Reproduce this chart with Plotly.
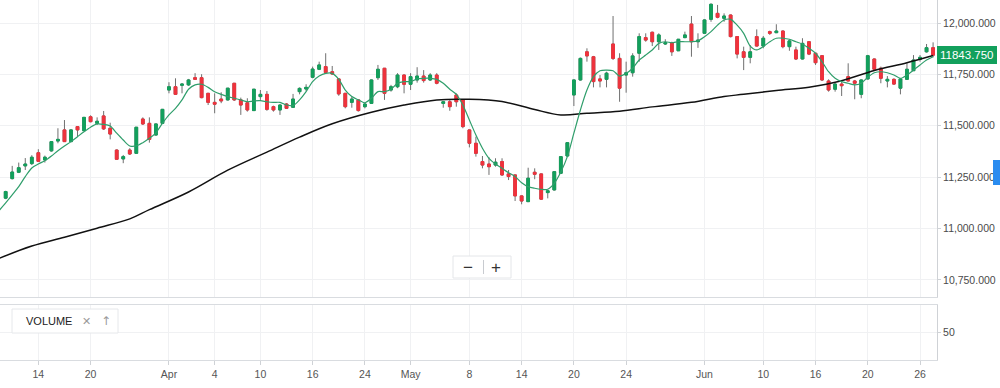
import plotly.graph_objects as go

# ---------------- data ----------------
bar_index = list(range(143))

opens = [11148,11243,11274,11305,11316,11369,11334,11378,11426,11480,
11423,11496,11476,11544,11512,11548,11488,11382,11339,11382,
11366,11533,11512,11455,11512,11674,11690,11697,11699,11734,
11734,11658,11614,11630,11626,11707,11626,11612,11574,11642,
11653,11593,11577,11606,11590,11666,11679,11736,11775,11788,
11763,11728,11658,11614,11626,11593,11609,11734,11780,11674,
11690,11747,11702,11723,11742,11723,11747,11609,11617,11650,
11626,11480,11415,11326,11314,11309,11326,11266,11261,11159,
11131,11274,11266,11175,11188,11269,11353,11650,11723,11860,
11836,11728,11726,11898,11828,11747,11758,11853,11929,11955,
11909,11898,11904,11865,11929,11995,11909,11950,12018,12047,
12023,12039,11934,11860,11833,11934,11888,11958,11953,11961,
11885,11869,11825,11909,11853,11841,11718,11678,11703,11739,
11718,11653,11728,11825,11780,11718,11726,11683,11726,11768,
11823,11860,11880]

highs = [11184,11305,11321,11343,11357,11386,11355,11426,11488,11528,
11483,11499,11543,11551,11541,11572,11515,11385,11358,11391,
11494,11541,11541,11511,11582,11712,11731,11706,11728,11756,
11751,11660,11658,11663,11684,11708,11637,11634,11679,11674,
11669,11598,11604,11610,11655,11687,11702,11788,11812,11853,
11791,11730,11660,11642,11628,11612,11725,11796,11781,11699,
11756,11750,11756,11785,11771,11756,11756,11618,11626,11658,
11628,11482,11447,11353,11347,11342,11342,11285,11262,11161,
11296,11293,11268,11188,11280,11353,11421,11725,11832,11877,
11840,11747,11763,12034,11853,11812,11853,11950,11950,11958,
11950,11921,11909,11922,11958,12034,11950,12018,12096,12088,
12047,12041,11935,11885,11893,11969,11937,11963,11994,11964,
11921,11885,11926,11910,11854,11842,11726,11710,11723,11804,
11723,11726,11845,11827,11788,11742,11731,11729,11804,11844,
11844,11898,11906]

lows = [11143,11239,11270,11285,11309,11324,11321,11374,11415,11421,
11420,11447,11475,11517,11504,11480,11434,11335,11318,11358,
11364,11504,11418,11453,11511,11658,11650,11658,11694,11723,
11634,11601,11561,11610,11623,11621,11553,11569,11572,11626,
11573,11569,11553,11582,11588,11653,11669,11731,11771,11757,
11747,11646,11585,11588,11569,11585,11606,11723,11626,11666,
11683,11658,11674,11710,11710,11718,11702,11588,11573,11593,
11488,11395,11350,11293,11261,11301,11256,11236,11134,11118,
11129,11240,11139,11147,11185,11267,11351,11596,11720,11812,
11687,11687,11687,11820,11617,11661,11739,11812,11909,11888,
11869,11893,11840,11864,11926,11836,11879,11947,12006,12023,
12006,11930,11828,11771,11804,11886,11877,11942,11951,11877,
11865,11820,11823,11844,11796,11718,11666,11666,11645,11716,
11629,11634,11725,11771,11707,11687,11699,11653,11724,11767,
11812,11856,11833]

closes = [11180,11275,11296,11314,11347,11327,11347,11423,11434,11423,
11480,11480,11541,11520,11522,11485,11460,11337,11350,11363,
11493,11509,11434,11509,11580,11690,11653,11703,11723,11726,
11637,11614,11605,11621,11683,11626,11601,11577,11678,11653,
11580,11577,11601,11585,11630,11682,11687,11776,11796,11759,
11752,11655,11593,11630,11574,11606,11723,11775,11658,11690,
11747,11702,11739,11742,11720,11747,11707,11617,11593,11617,
11496,11415,11366,11309,11301,11323,11261,11253,11159,11134,
11245,11264,11143,11184,11277,11350,11418,11723,11828,11840,
11715,11718,11756,11828,11683,11758,11840,11934,11917,11909,
11942,11904,11860,11921,11942,11909,11917,12015,12091,12028,
12034,11934,11849,11833,11860,11888,11926,11950,11961,11885,
11913,11825,11901,11849,11807,11723,11674,11703,11695,11718,
11707,11723,11841,11775,11731,11726,11703,11728,11775,11820,
11833,11880,11843.75]

# short moving average (green line), one value per bar starting one bar before the first candle
short_ma_x = list(range(-1, 143))
short_ma = [11088,
11125,11164,11204,11253,11295,11314,11330,11353,11379,11402,
11423,11447,11471,11493,11509,11507,11499,11464,11431,11402,
11402,11418,11439,11466,11512,11553,11585,11626,11678,11699,
11702,11687,11666,11653,11642,11634,11626,11617,11621,11622,
11617,11614,11614,11601,11598,11626,11666,11715,11742,11755,
11755,11726,11674,11642,11626,11612,11634,11666,11666,11678,
11707,11715,11715,11728,11731,11731,11726,11707,11678,11653,
11601,11528,11455,11391,11342,11314,11293,11272,11253,11223,
11204,11196,11191,11191,11220,11275,11350,11464,11577,11674,
11739,11768,11771,11768,11742,11755,11780,11820,11844,11869,
11901,11909,11904,11909,11909,11909,11913,11933,11958,11990,
12015,12018,11990,11950,11888,11869,11885,11909,11926,11926,
11921,11909,11898,11877,11853,11812,11763,11731,11715,11707,
11699,11707,11736,11758,11763,11758,11747,11731,11747,11771,
11796,11820,11836]

# long moving average (black line), read at sample bars
long_ma_x = [-1, 4, 9, 14, 19, 22, 28, 34, 40, 45, 50, 56, 61, 66, 71, 76, 81, 85,
             89, 94, 99, 105, 110, 113, 118, 123, 128, 133, 138, 142]
long_ma = [10855, 10915, 10958, 11002, 11047, 11092, 11178, 11284, 11372, 11445,
           11510, 11566, 11601, 11626, 11629, 11618, 11579, 11553, 11561, 11571,
           11592, 11614, 11643, 11653, 11672, 11688, 11719, 11769, 11807, 11842]

tick_pos = [5, 13, 25, 32, 39, 47, 55, 62, 71, 79, 87, 95, 107, 116, 124, 132, 140]
tick_text = ["14", "20", "Apr", "4", "10", "16", "24", "May", "8", "14", "20", "24",
             "Jun", "10", "16", "20", "26"]

price_ticks = [10750, 11000, 11250, 11500, 11750, 12000]
last_price = closes[-1]

# ---------------- styling ----------------
GREEN = "#12a05c"
RED = "#f0323c"
WICK = "#6f6f6f"
GRID = "#f0f1f3"
AXLINE = "#d9dce0"
FONT = "Liberation Sans, Arial, sans-serif"

body_hi = [max(o, c) for o, c in zip(opens, closes)]
body_lo = [min(o, c) for o, c in zip(opens, closes)]

fig = go.Figure()

# wicks (grey)
fig.add_trace(go.Candlestick(
    x=bar_index, open=opens, high=highs, low=lows, close=closes,
    increasing=dict(line=dict(color=WICK, width=1), fillcolor=WICK),
    decreasing=dict(line=dict(color=WICK, width=1), fillcolor=WICK),
    whiskerwidth=0, showlegend=False, hoverinfo="skip",
    xaxis="x", yaxis="y"))

# coloured bodies
fig.add_trace(go.Candlestick(
    x=bar_index, open=opens, high=body_hi, low=body_lo, close=closes,
    increasing=dict(line=dict(color=GREEN, width=1), fillcolor=GREEN),
    decreasing=dict(line=dict(color=RED, width=1), fillcolor=RED),
    whiskerwidth=0, showlegend=False,
    xaxis="x", yaxis="y"))

fig.add_trace(go.Scatter(
    x=long_ma_x, y=long_ma, mode="lines",
    line=dict(color="#111111", width=1.5, shape="spline", smoothing=1.0),
    showlegend=False, hoverinfo="skip", xaxis="x", yaxis="y"))

fig.add_trace(go.Scatter(
    x=short_ma_x, y=short_ma, mode="lines",
    line=dict(color="#2f9e6b", width=1.2, shape="spline", smoothing=0.8),
    showlegend=False, hoverinfo="skip", xaxis="x", yaxis="y"))

# empty volume pane
fig.add_trace(go.Scatter(x=[None], y=[None], mode="lines", showlegend=False,
                         xaxis="x2", yaxis="y2"))

XDOM = [0, 0.937]
XRANGE = [-0.87, 142.6]

fig.update_layout(
    width=1000, height=388,
    margin=dict(l=0, r=0, t=0, b=0),
    paper_bgcolor="white", plot_bgcolor="white",
    font=dict(family=FONT, size=11, color="#4a4a4a"),
    boxgap=0.4, boxmode="overlay",
    showlegend=False,
    xaxis=dict(domain=XDOM, anchor="y", range=XRANGE, tickvals=tick_pos,
               showticklabels=False, showgrid=True, gridcolor=GRID, zeroline=False,
               rangeslider=dict(visible=False), showline=True, linecolor=AXLINE,
               ticks=""),
    yaxis=dict(domain=[0.2345, 1], anchor="x", side="right", range=[10667, 12112],
               tickvals=price_ticks, tickformat=",.3f", showgrid=True, gridcolor=GRID,
               zeroline=False, showline=True, linecolor="#cfd2d6", ticks="outside",
               ticklen=3, tickcolor="#cfd2d6", tickfont=dict(size=10.5, color="#4a4a4a")),
    xaxis2=dict(domain=XDOM, anchor="y2", matches="x", range=XRANGE, tickvals=tick_pos,
                ticktext=tick_text, showgrid=True, gridcolor=GRID, zeroline=False,
                showline=True, mirror=True, linecolor=AXLINE, ticks="outside",
                ticklen=4, tickcolor="#cfd2d6", tickfont=dict(size=10.5, color="#555555")),
    yaxis2=dict(domain=[0.072, 0.214], anchor="x2", side="right", range=[0, 100],
                tickvals=[50], showgrid=True, gridcolor=GRID, zeroline=False,
                showline=True, linecolor="#cfd2d6", ticks="outside", ticklen=3,
                tickcolor="#cfd2d6", tickfont=dict(size=10.5, color="#4a4a4a")),
)

# last price label
fig.add_annotation(x=0.9365, xref="paper", y=last_price, yref="y",
                   text=f"{last_price:.3f}", showarrow=False, xanchor="left",
                   yanchor="middle", bgcolor="#12a05c", bordercolor="#12a05c",
                   borderpad=2, font=dict(color="white", size=11.5, family=FONT))

# blue side tab
fig.add_shape(type="rect", xref="paper", yref="paper", x0=0.993, x1=1.0,
              y0=1 - 185 / 388, y1=1 - 160 / 388, fillcolor="#2a8cf0",
              line=dict(width=0), layer="above")

# zoom buttons
fig.add_shape(type="rect", xref="paper", yref="paper", x0=0.453, x1=0.511,
              y0=1 - 278 / 388, y1=1 - 256 / 388, fillcolor="white",
              line=dict(color="#e4e6e9", width=1), layer="above")
fig.add_shape(type="line", xref="paper", yref="paper", x0=0.4835, x1=0.4835,
              y0=1 - 274 / 388, y1=1 - 260 / 388, line=dict(color="#c8cbd0", width=1),
              layer="above")
fig.add_annotation(x=0.468, xref="paper", y=1 - 267 / 388, yref="paper", text="−",
                   showarrow=False, xanchor="center", yanchor="middle",
                   font=dict(size=17, color="#333333", family=FONT))
fig.add_annotation(x=0.496, xref="paper", y=1 - 267 / 388, yref="paper", text="+",
                   showarrow=False, xanchor="center", yanchor="middle",
                   font=dict(size=17, color="#333333", family=FONT))

# volume legend box
fig.add_shape(type="rect", xref="paper", yref="paper", x0=0.012, x1=0.118,
              y0=1 - 333 / 388, y1=1 - 309 / 388, fillcolor="white",
              line=dict(color="#e6e8eb", width=1), layer="above")
fig.add_annotation(x=0.024, xref="paper", y=1 - 321 / 388, yref="paper", text="VOLUME",
                   showarrow=False, xanchor="left", yanchor="middle",
                   font=dict(size=11, color="#222222", family=FONT))
fig.add_annotation(x=0.086, xref="paper", y=1 - 321 / 388, yref="paper", text="✕",
                   showarrow=False, xanchor="center", yanchor="middle",
                   font=dict(size=11, color="#9a9a9a", family="DejaVu Sans"))
fig.add_annotation(x=0.106, xref="paper", y=1 - 321 / 388, yref="paper", text="↑",
                   showarrow=False, xanchor="center", yanchor="middle",
                   font=dict(size=12, color="#9a9a9a", family="DejaVu Sans"))

fig.write_html("out.html", config={"displayModeBar": False},
               post_script="document.body.style.margin='0';document.body.style.overflow='hidden';")
